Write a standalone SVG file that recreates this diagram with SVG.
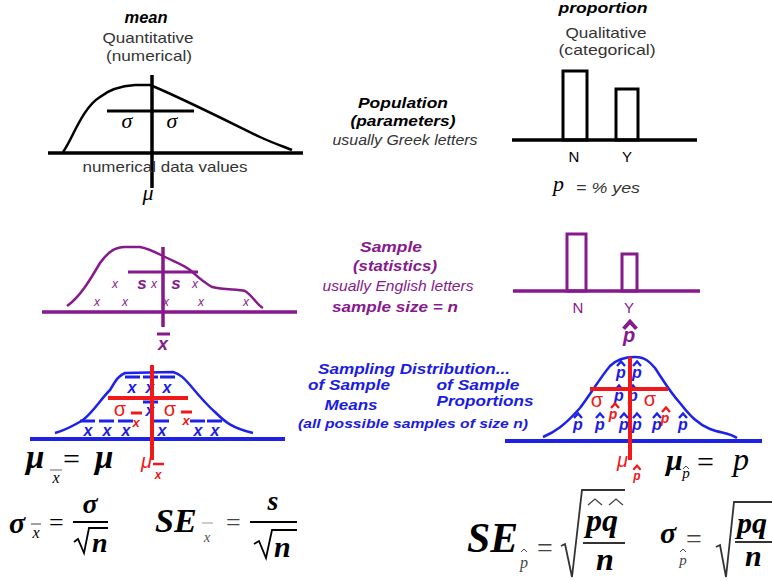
<svg xmlns="http://www.w3.org/2000/svg" xmlns:xlink="http://www.w3.org/1999/xlink" width="772" height="581" viewBox="0 0 772 581">
<style>
.sans{font-family:"Liberation Sans",Arial,sans-serif}
.bi{font-weight:bold;font-style:italic}
.it{font-style:italic}
.serif{font-family:"Liberation Serif","Times New Roman",serif}
.math{font-family:"Liberation Serif","Times New Roman",serif;font-weight:bold;font-style:italic}
.gray{fill:#333}
.blk{stroke:#000;fill:none}
.pur{fill:#86198c}
.purs{stroke:#86198c;fill:none}
.blu{fill:#1c1ce0}
.blus{stroke:#1c22e8;fill:none}
.red{fill:#f01818}
.reds{stroke:#f01818;fill:none}
.mid{text-anchor:middle}
</style>
<defs>
<path id="hat" d="M-4,3 L0,-1.5 L4,3" fill="none" stroke-width="2.4"/>
<path id="hatS" d="M-3,2 L0,-1 L3,2" fill="none" stroke-width="1"/>
</defs>
<rect width="772" height="581" fill="#fff"/>

<!-- Top left: population quantitative -->
<g id="pop-quant">
<text class="sans bi mid" x="146" y="23" font-size="16" textLength="43" lengthAdjust="spacingAndGlyphs">mean</text>
<text class="sans gray mid" x="148" y="43" font-size="15" textLength="91" lengthAdjust="spacingAndGlyphs">Quantitative</text>
<text class="sans gray mid" x="149" y="61" font-size="15" textLength="86" lengthAdjust="spacingAndGlyphs">(numerical)</text>
<path class="blk" stroke-width="2.5" d="M63,152 C72,140 82,108 100,97 C110,89 120,86 135,85 L150,85 C175,95 215,115 260,137 C275,144 285,147 292,150"/>
<line class="blk" stroke-width="3.5" x1="48" y1="153" x2="303" y2="153"/>
<line class="blk" stroke-width="3.5" x1="152" y1="75" x2="152" y2="188"/>
<line class="blk" stroke-width="3" x1="107" y1="111" x2="194" y2="111"/>
<text class="serif it mid" x="127" y="128" font-size="22">σ</text>
<text class="serif it mid" x="172" y="128" font-size="22">σ</text>
<text class="sans gray mid" x="165" y="172" font-size="15" textLength="165" lengthAdjust="spacingAndGlyphs">numerical data values</text>
<text class="serif it mid" x="148" y="200" font-size="22">μ</text>
</g>

<!-- Top right: population qualitative -->
<g id="pop-qual">
<text class="sans bi mid" x="603" y="13" font-size="15" textLength="89" lengthAdjust="spacingAndGlyphs">proportion</text>
<text class="sans gray mid" x="606" y="38" font-size="15" textLength="81" lengthAdjust="spacingAndGlyphs">Qualitative</text>
<text class="sans gray mid" x="607" y="55" font-size="15" textLength="97" lengthAdjust="spacingAndGlyphs">(categorical)</text>
<rect class="blk" stroke-width="3" x="563" y="71" width="24" height="69"/>
<rect class="blk" stroke-width="3" x="616" y="89" width="22" height="51"/>
<line class="blk" stroke-width="3.5" x1="512" y1="140" x2="697" y2="140"/>
<text class="sans mid" x="574" y="162" font-size="15">N</text>
<text class="sans mid" x="627" y="162" font-size="15">Y</text>
<text class="serif it" x="553" y="191" font-size="22">p</text>
<text class="sans it gray" x="576" y="193" font-size="14" textLength="64" lengthAdjust="spacingAndGlyphs">= % yes</text>
</g>

<g id="pop-label">
<text class="sans bi mid" x="403" y="108" font-size="15" textLength="90" lengthAdjust="spacingAndGlyphs">Population</text>
<text class="sans bi mid" x="403" y="126" font-size="15" textLength="105" lengthAdjust="spacingAndGlyphs">(parameters)</text>
<text class="sans it gray mid" x="405" y="145" font-size="14" textLength="145" lengthAdjust="spacingAndGlyphs">usually Greek letters</text>
</g>

<!-- Sample row -->
<g id="sample-quant">
<path class="purs" stroke-width="2.5" d="M67,306 C80,297 90,280 100,263 C108,252 115,247 125,247 L140,247 C150,249 157,253 165,257 C175,262 182,264 190,270 C198,277 203,282 212,287 C225,290 238,289 245,291 C253,296 257,305 263,308"/>
<line class="purs" stroke-width="3.5" x1="42" y1="312" x2="297" y2="312"/>
<line class="purs" stroke-width="3.5" x1="163" y1="247" x2="163" y2="327"/>
<line class="purs" stroke-width="3" x1="128" y1="272" x2="198" y2="272"/>
<text class="sans bi pur mid" x="142" y="289" font-size="17">s</text>
<text class="sans bi pur mid" x="176" y="289" font-size="17">s</text>
<g class="sans it pur" font-size="12" text-anchor="middle">
<text x="115" y="288">x</text><text x="154" y="288">x</text><text x="195" y="288">x</text>
<text x="97" y="306">x</text><text x="125" y="306">x</text><text x="166" y="306">x</text><text x="201" y="306">x</text><text x="246" y="306">x</text>
</g>
<line class="purs" stroke-width="3" x1="157" y1="334" x2="170" y2="334"/>
<text class="sans bi pur mid" x="163" y="350" font-size="18">x</text>
</g>

<g id="sample-qual">
<rect class="purs" stroke-width="3" x="567" y="234" width="19" height="57"/>
<rect class="purs" stroke-width="3" x="622" y="254" width="15" height="37"/>
<line class="purs" stroke-width="3.5" x1="513" y1="291" x2="700" y2="291"/>
<text class="sans pur mid" x="578" y="313" font-size="15">N</text>
<text class="sans pur mid" x="629" y="313" font-size="15">Y</text>
<use xlink:href="#hat" class="purs" transform="translate(630,324) scale(1.6)"/>
<text class="sans bi pur mid" x="629" y="342" font-size="20">p</text>
</g>

<g id="sample-label">
<text class="sans bi pur mid" x="391" y="252" font-size="15" textLength="62" lengthAdjust="spacingAndGlyphs">Sample</text>
<text class="sans bi pur mid" x="395" y="271" font-size="15" textLength="84" lengthAdjust="spacingAndGlyphs">(statistics)</text>
<text class="sans it pur mid" x="398" y="291" font-size="14" textLength="151" lengthAdjust="spacingAndGlyphs">usually English letters</text>
<text class="sans bi pur mid" x="395" y="312" font-size="15" textLength="126" lengthAdjust="spacingAndGlyphs">sample size = n</text>
</g>

<!-- Sampling distribution of means -->
<g id="sampling-means">
<path class="blus" stroke-width="2.5" d="M55,433 C62,431 70,428 83,420 C95,410 100,400 110,390 C116,380 118,376 125,373 L173,372 C180,374 184,378 190,385 C200,397 208,406 215,412 C225,422 232,428 253,433"/>
<line class="blus" stroke-width="4" x1="30" y1="439" x2="285" y2="439"/>
<g class="blus" stroke-width="3">
<line x1="125" y1="377" x2="140" y2="377"/><line x1="143" y1="377" x2="158" y2="377"/><line x1="160" y1="377" x2="175" y2="377"/>
<line x1="143" y1="402" x2="158" y2="402"/>
<line x1="80" y1="421" x2="95" y2="421"/><line x1="99" y1="421" x2="114" y2="421"/><line x1="118" y1="421" x2="133" y2="421"/>
<line x1="154" y1="421" x2="169" y2="421"/><line x1="190" y1="421" x2="205" y2="421"/><line x1="207" y1="421" x2="222" y2="421"/>
</g>
<g class="sans bi blu" font-size="16" text-anchor="middle">
<text x="132" y="393">x</text><text x="150" y="393">x</text><text x="167" y="393">x</text>
<text x="150" y="416">x</text>
<text x="88" y="436">x</text><text x="107" y="436">x</text><text x="126" y="436">x</text><text x="162" y="436">x</text><text x="198" y="436">x</text><text x="215" y="436">x</text>
</g>
<line class="reds" stroke-width="4" x1="108" y1="398" x2="188" y2="398"/>
<line class="reds" stroke-width="4" x1="152" y1="365" x2="152" y2="460"/>
<text class="sans red mid" x="120" y="416" font-size="20">σ</text>
<line class="reds" stroke-width="3" x1="131" y1="413" x2="142" y2="413"/>
<text class="sans bi red mid" x="136" y="427" font-size="13">x</text>
<text class="sans red mid" x="170" y="416" font-size="20">σ</text>
<line class="reds" stroke-width="3" x1="181" y1="412" x2="192" y2="412"/>
<text class="sans bi red mid" x="186" y="425" font-size="13">x</text>
<text class="sans it red" x="141" y="468" font-size="20">μ</text>
<line class="reds" stroke-width="2.5" x1="153" y1="464" x2="164" y2="464"/>
<text class="sans bi red mid" x="158" y="479" font-size="12">x</text>
</g>

<g id="sampling-label">
<text class="sans bi blu mid" x="414" y="374" font-size="15" textLength="192" lengthAdjust="spacingAndGlyphs">Sampling Distribution...</text>
<text class="sans bi blu mid" x="349" y="390" font-size="15" textLength="82" lengthAdjust="spacingAndGlyphs">of Sample</text>
<text class="sans bi blu mid" x="478" y="390" font-size="15" textLength="83" lengthAdjust="spacingAndGlyphs">of Sample</text>
<text class="sans bi blu mid" x="351" y="410" font-size="15" textLength="53" lengthAdjust="spacingAndGlyphs">Means</text>
<text class="sans bi blu mid" x="485" y="406" font-size="15" textLength="97" lengthAdjust="spacingAndGlyphs">Proportions</text>
<text class="sans bi blu mid" x="413" y="428" font-size="13" textLength="230" lengthAdjust="spacingAndGlyphs">(all possible samples of size n)</text>
</g>

<!-- Sampling distribution of proportions -->
<g id="sampling-props">
<path class="blus" stroke-width="2.5" d="M543,437 C555,432 565,425 580,408 C592,392 600,378 610,366 C617,359 625,357 635,357 C645,357 650,362 655,368 C663,380 670,392 680,403 C690,416 698,424 710,429 C720,433 730,433 737,438"/>
<line class="blus" stroke-width="4" x1="505" y1="441" x2="762" y2="441"/>
<g class="blus">
<use xlink:href="#hat" transform="translate(621,363)"/><use xlink:href="#hat" transform="translate(637,363)"/>
<use xlink:href="#hat" transform="translate(619,387)"/><use xlink:href="#hat" transform="translate(633,387)"/>
<use xlink:href="#hat" transform="translate(578,415)"/><use xlink:href="#hat" transform="translate(600,415)"/><use xlink:href="#hat" transform="translate(624,415)"/>
<use xlink:href="#hat" transform="translate(637,415)"/><use xlink:href="#hat" transform="translate(657,415)"/><use xlink:href="#hat" transform="translate(683,415)"/>
</g>
<g class="sans bi blu" font-size="16" text-anchor="middle">
<text x="621" y="378">p</text><text x="637" y="378">p</text>
<text x="619" y="401">p</text><text x="633" y="401">p</text>
<text x="578" y="430">p</text><text x="600" y="430">p</text><text x="624" y="430">p</text><text x="637" y="430">p</text><text x="657" y="430">p</text><text x="683" y="430">p</text>
</g>
<line class="reds" stroke-width="4" x1="590" y1="389" x2="668" y2="389"/>
<line class="reds" stroke-width="4" x1="630" y1="357" x2="630" y2="460"/>
<text class="sans red mid" x="597" y="407" font-size="20">σ</text>
<use xlink:href="#hat" class="reds" transform="translate(615,405)"/>
<text class="sans bi red mid" x="613" y="419" font-size="14">p</text>
<text class="sans red mid" x="650" y="406" font-size="20">σ</text>
<use xlink:href="#hat" class="reds" transform="translate(666,409)"/>
<text class="sans bi red mid" x="665" y="423" font-size="14">p</text>
<text class="sans it red" x="617" y="467" font-size="20">μ</text>
<use xlink:href="#hat" class="reds" transform="translate(637,467) scale(0.9)"/>
<text class="sans bi red mid" x="637" y="480" font-size="12">p</text>
</g>

<!-- formulas -->
<g id="formula-mu-xbar">
<text class="math" x="26" y="468" font-size="33">μ</text>
<line stroke="#666" stroke-width="1" x1="50" y1="470" x2="62" y2="470"/>
<text class="serif it mid" x="56" y="483" font-size="16">x</text>
<text class="serif" x="63" y="469" font-size="30">=</text>
<text class="math" x="95" y="468" font-size="33">μ</text>
</g>

<g id="formula-mu-phat">
<text class="math" x="666" y="470" font-size="30">μ</text>
<use xlink:href="#hatS" stroke="#444" transform="translate(686,467)"/>
<text class="serif it mid" x="686" y="478" font-size="15">p</text>
<text class="serif" x="697" y="472" font-size="30">=</text>
<text class="serif it" x="733" y="470" font-size="32">p</text>
</g>

<g id="formula-sigma-xbar">
<text class="math" x="9" y="533" font-size="30">σ</text>
<line stroke="#444" stroke-width="1" x1="31" y1="524" x2="41" y2="524"/>
<text class="serif it mid" x="36" y="538" font-size="16">x</text>
<text class="serif" x="49" y="531" font-size="26">=</text>
<text class="math mid" x="90" y="513" font-size="28">σ</text>
<line stroke="#000" stroke-width="2" x1="73" y1="522" x2="108" y2="522"/>
<path d="M74,542 L78,539 L84,553 L89,528 L108,528" fill="none" stroke="#000" stroke-width="1.8"/>
<text class="math" x="92" y="552" font-size="28">n</text>
</g>

<g id="formula-se-xbar">
<text class="math" x="155" y="532" font-size="34">SE</text>
<line stroke="#999" stroke-width="1" x1="202" y1="523" x2="213" y2="523"/>
<text class="serif it mid" x="207" y="542" font-size="15" fill="#555">x</text>
<text class="serif" x="226" y="531" font-size="26" fill="#444">=</text>
<text class="math mid" x="273" y="510" font-size="28">s</text>
<line stroke="#000" stroke-width="2" x1="250" y1="522" x2="297" y2="522"/>
<path d="M254,544 L259,541 L266,558 L272,530 L297,530" fill="none" stroke="#000" stroke-width="1.8"/>
<text class="math" x="274" y="557" font-size="30">n</text>
</g>

<g id="formula-se-phat">
<text class="math" x="467" y="552" font-size="42" textLength="51" lengthAdjust="spacingAndGlyphs">SE</text>
<use xlink:href="#hatS" stroke="#444" transform="translate(524,550)"/>
<text class="serif it mid" x="524" y="568" font-size="16" fill="#444">p</text>
<text class="serif" x="537" y="557" font-size="28" fill="#444">=</text>
<path d="M561,546 L565,544 L572,577 L582,490 L625,490" fill="none" stroke="#333" stroke-width="1.8"/>
<path d="M588,505 L595,499 L602,505 M609,505 L616,499 L623,505" fill="none" stroke="#444" stroke-width="1.3"/>
<text class="math" x="586" y="531" font-size="32">pq</text>
<line stroke="#333" stroke-width="2" x1="583" y1="543" x2="625" y2="543"/>
<text class="math" x="596" y="570" font-size="32">n</text>
</g>

<g id="formula-sigma-phat">
<text class="math" x="660" y="543" font-size="30">σ</text>
<use xlink:href="#hatS" stroke="#444" transform="translate(683,550)"/>
<text class="serif it mid" x="683" y="565" font-size="15" fill="#444">p</text>
<text class="serif" x="686" y="548" font-size="28" fill="#444">=</text>
<path d="M716,547 L720,545 L726,577 L734,502 L772,502" fill="none" stroke="#333" stroke-width="1.8"/>
<text class="math" x="737" y="533" font-size="30">pq</text>
<line stroke="#333" stroke-width="2" x1="735" y1="542" x2="772" y2="542"/>
<text class="math" x="745" y="566" font-size="30">n</text>
</g>
</svg>
